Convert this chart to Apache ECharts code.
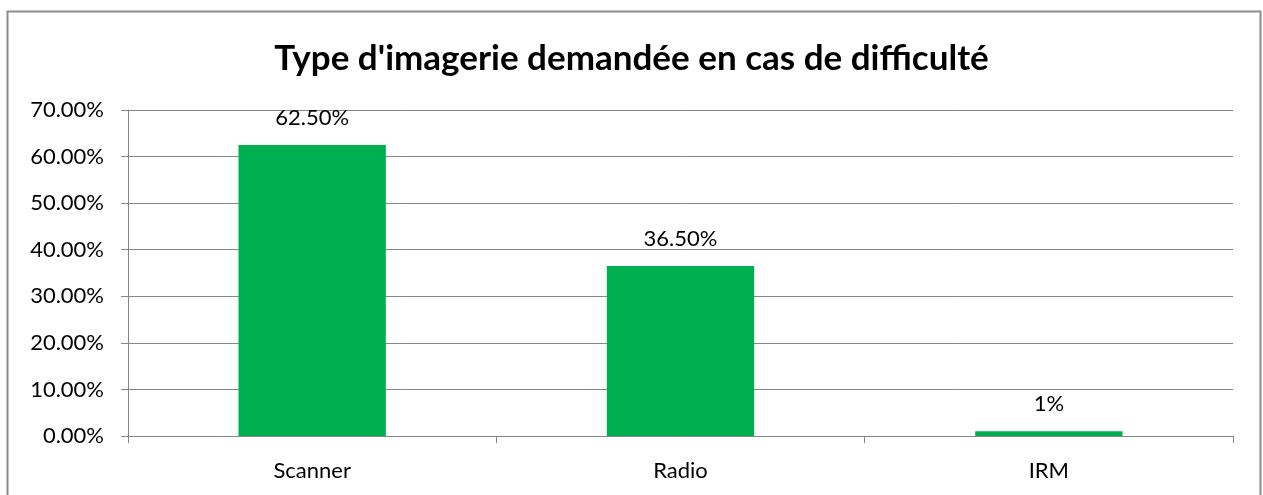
<!DOCTYPE html>
<html>
<head>
<meta charset="utf-8">
<script src="https://cdn.jsdelivr.net/npm/echarts@6/dist/echarts.min.js"></script>
<style>
  html, body { margin: 0; padding: 0; background: #fff; }
  #chart { width: 1263px; height: 495px; }
</style>
</head>
<body>
<div id="chart"></div>
<script>
const categories = ["Scanner", "Radio", "IRM"];
const values = [62.5, 36.5, 1];
const valueLabels = ["62.50%", "36.50%", "1%"];

const myChart = echarts.init(document.getElementById("chart"));
const font = "Lato, 'Open Sans', sans-serif";

const option = {
  backgroundColor: "#fff",
  animation: false,
  title: {
    text: "Type d'imagerie demandée en cas de difficulté",
    left: "center",
    top: 36,
    textStyle: { fontFamily: font, fontSize: 35, fontWeight: "bold", color: "#000" },
  },
  graphic: [
    {
      type: "rect",
      shape: { x: 7.5, y: 11.5, width: 1253, height: 500 },
      style: { fill: "none", stroke: "#8c8c8c", lineWidth: 2 },
      silent: true,
    },
  ],
  grid: { left: 128, right: 30, top: 110, bottom: 59 },
  xAxis: {
    type: "category",
    data: categories,
    axisLine: { lineStyle: { color: "#868686", width: 1 } },
    axisTick: { show: true, length: 7, lineStyle: { color: "#868686" } },
    axisLabel: { fontFamily: font, fontSize: 22, color: "#000", margin: 24 },
  },
  yAxis: {
    type: "value",
    min: 0,
    max: 70,
    interval: 10,
    axisLine: { show: true, lineStyle: { color: "#868686" } },
    axisTick: { show: true, length: 7, lineStyle: { color: "#868686" } },
    splitLine: { lineStyle: { color: "#868686", width: 1 } },
    axisLabel: {
      fontFamily: font,
      fontSize: 22,
      color: "#000",
      margin: 24,
      formatter: (v) => v.toFixed(2) + "%",
    },
  },
  series: [
    {
      type: "bar",
      data: values,
      barCategoryGap: "60%",
      itemStyle: { color: "#00B050" },
      label: {
        show: true,
        position: "top",
        distance: 16,
        fontFamily: font,
        fontSize: 22,
        color: "#000",
        formatter: (p) => valueLabels[p.dataIndex],
      },
    },
  ],
};

myChart.setOption(option);
</script>
</body>
</html>
